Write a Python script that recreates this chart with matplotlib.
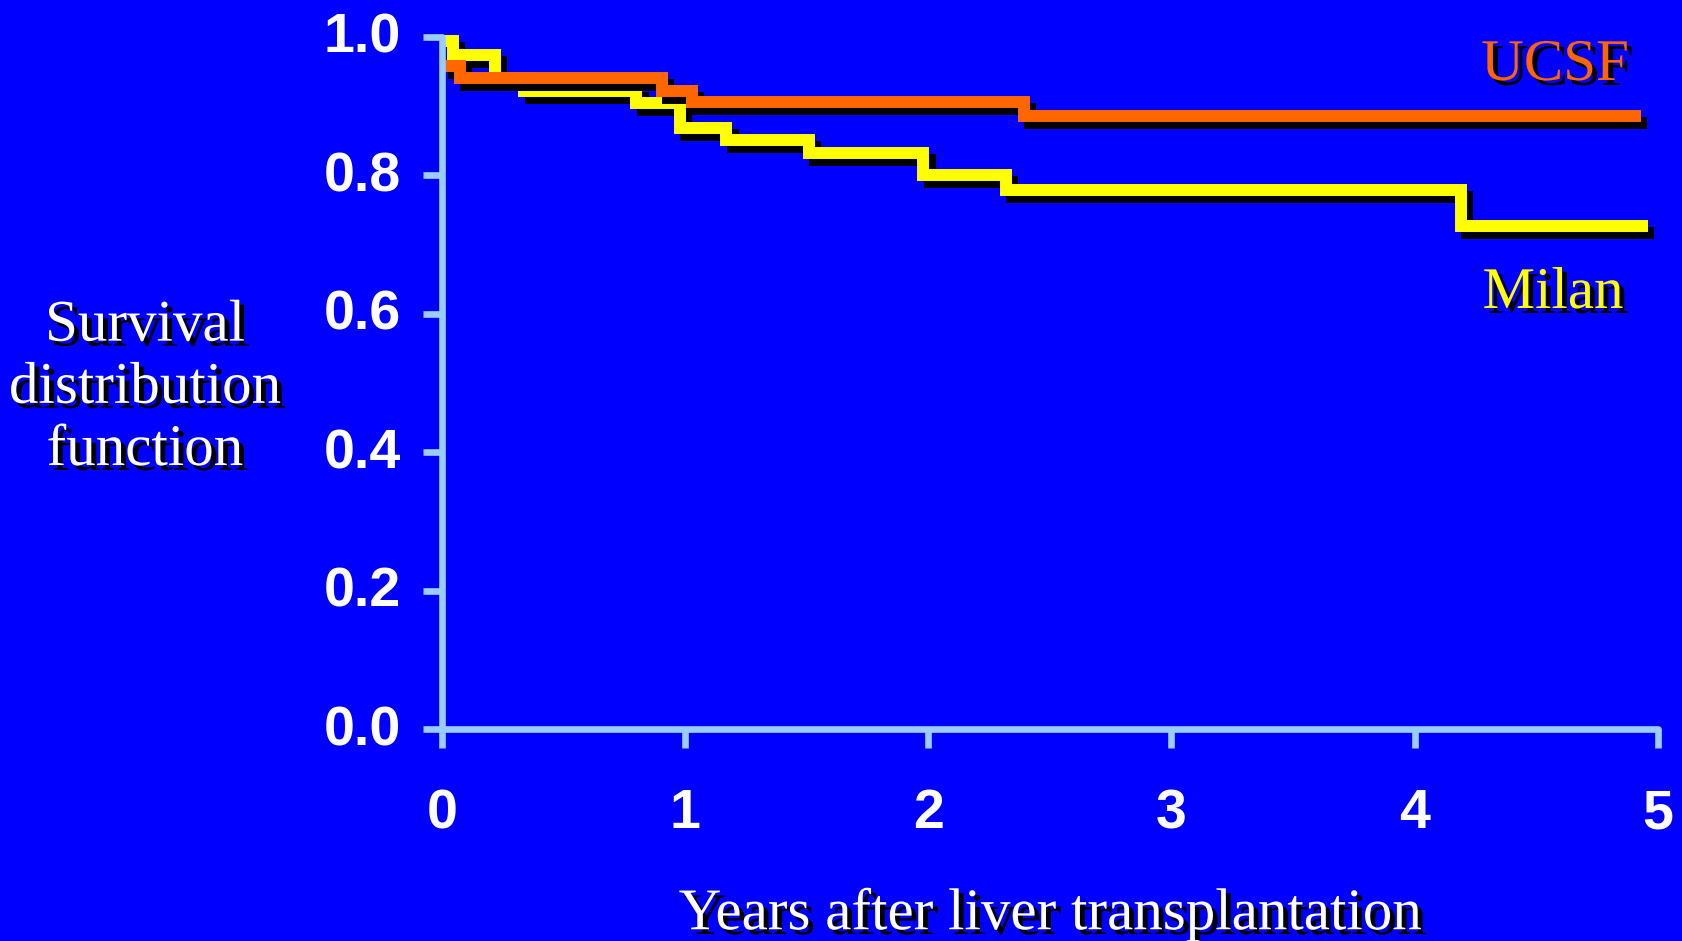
#!/usr/bin/env python3
"""
Kaplan-Meier style survival curves: UCSF vs Milan criteria
"""

import matplotlib
matplotlib.use('Agg')
import matplotlib.pyplot as plt
import matplotlib.patheffects as pe
from matplotlib.transforms import ScaledTranslation

# Survival steps (time in years, survival fraction after each event)
milan_years = [0, 0.047, 0.22, 0.34, 0.80, 0.98, 1.17, 1.51, 1.98, 2.32, 4.19, 4.96]
milan_surv = [0.994, 0.974, 0.941, 0.921, 0.904, 0.868, 0.851, 0.832, 0.800, 0.778, 0.727, 0.727]

ucsf_years = [0, 0.076, 0.906, 1.027, 2.393, 4.93]
ucsf_surv = [0.957, 0.941, 0.922, 0.906, 0.886, 0.886]

x_ticks = [0, 1, 2, 3, 4, 5]
y_ticks = [0.0, 0.2, 0.4, 0.6, 0.8, 1.0]
y_tick_labels = ['0.0', '0.2', '0.4', '0.6', '0.8', '1.0']

BG = '#0000FF'
AXIS = '#99CCFF'
ORANGE = '#FF6600'
YELLOW = '#FFFF00'
SERIF = 'Liberation Serif'
SANS = 'Liberation Sans'


def line_shadow():
    return [pe.SimpleLineShadow(offset=(4.5, -5), shadow_color='black', alpha=1.0, rho=0),
            pe.Normal()]


def text_shadow():
    return [pe.SimplePatchShadow(offset=(3.5, -3.5), shadow_rgbFace='black', alpha=1.0),
            pe.Normal()]


def main():
    fig = plt.figure(figsize=(16.82, 9.41), dpi=100, facecolor=BG)
    ax = fig.add_axes([0.2626, 0.225, 0.7231, 0.736])
    ax.set_facecolor(BG)

    # Milan first so the UCSF curve and its shadow sit on top
    ax.step(milan_years, milan_surv, where='post', color=YELLOW, linewidth=8.6,
            solid_joinstyle='miter', solid_capstyle='butt',
            path_effects=line_shadow(), zorder=2, clip_on=False)
    ax.step(ucsf_years, ucsf_surv, where='post', color=ORANGE, linewidth=8.6,
            solid_joinstyle='miter', solid_capstyle='butt',
            path_effects=line_shadow(), zorder=2.2, clip_on=False)

    ax.set_xlim(0, 5)
    ax.set_ylim(0, 1)

    for side in ['top', 'right']:
        ax.spines[side].set_visible(False)
    for side in ['left', 'bottom']:
        ax.spines[side].set_color(AXIS)
        ax.spines[side].set_linewidth(4.8)
        ax.spines[side].set_capstyle('round')
        ax.spines[side].set_zorder(3)

    ax.set_xticks(x_ticks)
    ax.set_xticklabels([str(t) for t in x_ticks])
    ax.set_yticks(y_ticks)
    ax.set_yticklabels(y_tick_labels)
    ax.tick_params(axis='both', colors=AXIS, width=4.8, length=13.5, direction='out')
    ax.tick_params(axis='x', pad=29)
    ax.tick_params(axis='y', pad=16)
    for lbl in ax.get_xticklabels() + ax.get_yticklabels():
        lbl.set_color('white')
        lbl.set_fontfamily(SANS)
        lbl.set_fontweight('bold')
        lbl.set_fontsize(40)
    # nudge the y labels up a little
    nudge = ScaledTranslation(0, 3 / 72, fig.dpi_scale_trans)
    for lbl in ax.get_yticklabels():
        lbl.set_transform(lbl.get_transform() + nudge)

    # Axis titles
    fig.text(0.6243, 0.0125, 'Years after liver transplantation', ha='center',
             va='baseline', color='white', fontsize=42.5, family=SERIF,
             path_effects=text_shadow())
    fig.text(0.0862, 0.5058, 'Survival\ndistribution\nfunction', ha='center',
             va='baseline', multialignment='center', color='white', fontsize=42.5,
             family=SERIF, linespacing=1.2, path_effects=text_shadow())

    # Curve labels
    fig.text(0.9245, 0.915, 'UCSF', ha='center', va='baseline', color=ORANGE,
             fontsize=42.5, family=SERIF, path_effects=text_shadow())
    fig.text(0.9233, 0.6727, 'Milan', ha='center', va='baseline', color=YELLOW,
             fontsize=42.5, family=SERIF, path_effects=text_shadow())

    fig.savefig('out.png', dpi=100, facecolor=BG)


if __name__ == "__main__":
    main()
